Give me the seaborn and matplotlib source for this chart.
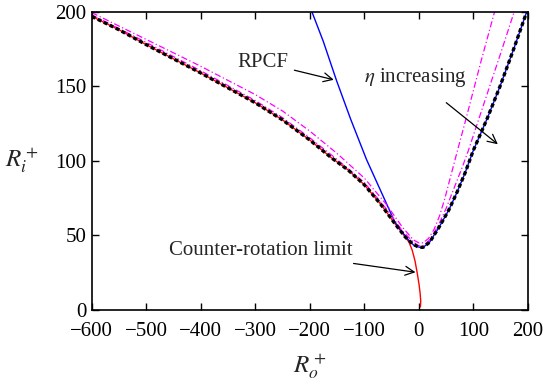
import matplotlib
matplotlib.use("Agg")
import matplotlib.pyplot as plt
import pandas as pd
import seaborn as sns

# ---------------------------------------------------------------------------
# Data (R_o^+, R_i^+)
# ---------------------------------------------------------------------------
black_x = [-600, -550, -500, -450, -400, -350, -300, -250, -200, -160, -130, -100,
           -70, -45, -25, -12, 0, 8, 20, 38, 55, 69, 85, 100, 125, 149, 175, 198]
black_y = [197, 188, 178, 168.5, 159, 149, 139, 127.5, 114, 102, 94, 84,
           71, 58.5, 49, 44.5, 42, 42, 45.5, 56, 67, 78, 92, 107, 128, 150, 176, 200]

red_x = [-600, -550, -500, -450, -400, -350, -300, -250, -200, -160, -130, -100,
         -70, -45, -25, -18, -12, -7, -3, 0.5, 2.5, 3.5, 3]
red_y = [197, 188, 178, 168.5, 159, 149, 139, 127.5, 114, 102, 94, 84,
         71, 58.5, 49, 45.5, 40, 33, 25, 17, 11, 6, 2]

blue_x = [-196, -175, -151, -125, -96, -70, -44, -30, -18, -8, 2, 8, 20, 38, 55,
          69, 85, 100, 125, 149, 175, 198]
blue_y = [200, 180, 154, 128, 101, 80, 59, 52, 46.5, 43, 42, 42, 45.5, 56, 67,
          78, 92, 107, 128, 150, 176, 200]

mag1_x = [-600, -500, -400, -300, -250, -200, -150, -100, -60, -30, -10, 0, 8,
          18, 28, 38, 48, 58, 71, 85, 100, 115, 130, 139]
mag1_y = [199.5, 181.5, 163.5, 144.5, 133.5, 120, 105, 88.5, 71, 55.5, 47, 45, 45,
          48, 54, 63, 75, 89, 107, 126, 147, 168, 188, 200]

mag2_x = [-600, -500, -400, -300, -250, -200, -150, -100, -60, -30, -10, 0, 8,
          20, 35, 50, 65, 80, 91, 110, 130, 150, 175]
mag2_y = [198, 179.5, 160.5, 140.5, 129, 115.5, 101, 85.5, 68, 53, 45.5, 43, 43,
          47, 56, 68, 82, 96, 107, 128, 150, 172, 200]

x_ticks = [-600, -500, -400, -300, -200, -100, 0, 100, 200]
y_ticks = [0, 50, 100, 150, 200]


def curve(x, y):
    return pd.DataFrame({"x": x, "y": y})


sns.set_theme(style="ticks")
plt.rcParams["font.family"] = ["Liberation Serif", "DejaVu Serif"]
plt.rcParams["mathtext.fontset"] = "stix"

fig, ax = plt.subplots(figsize=(5.43, 3.84), dpi=100)
fig.subplots_adjust(left=0.169, right=0.972, top=0.969, bottom=0.193)

sns.lineplot(data=curve(red_x, red_y), x="x", y="y", sort=False, ax=ax,
             color="#ff0000", linewidth=1.0)
sns.lineplot(data=curve(blue_x, blue_y), x="x", y="y", sort=False, ax=ax,
             color="#0000ff", linewidth=1.0)
sns.lineplot(data=curve(mag1_x, mag1_y), x="x", y="y", sort=False, ax=ax,
             color="#ff00ff", linewidth=0.9, linestyle=(0, (5, 2, 1, 2)))
sns.lineplot(data=curve(mag2_x, mag2_y), x="x", y="y", sort=False, ax=ax,
             color="#ff00ff", linewidth=0.9, linestyle=(0, (5, 2, 1, 2)))
sns.lineplot(data=curve(black_x, black_y), x="x", y="y", sort=False, ax=ax,
             color="black", linewidth=2.4, linestyle=(0, (1.2, 0.8)))

ax.set_xlim(-600, 200)
ax.set_ylim(0, 200)
ax.set_xticks(x_ticks)
ax.set_yticks(y_ticks)
ax.tick_params(direction="in", length=5, width=1, top=True, right=True,
               labelsize=15, colors="black", pad=4)
ax.tick_params(axis="x", pad=9)
for sp in ax.spines.values():
    sp.set_visible(True)
    sp.set_linewidth(1.2)
    sp.set_color("black")

ax.set_xlabel(r"$R_o^+$", fontsize=18, va="center")
ax.set_ylabel(r"$R_i^+$", fontsize=18, rotation=0, ha="center", va="center")
ax.xaxis.set_label_coords(0.5, -0.19)
ax.yaxis.set_label_coords(-0.16, 0.503)

arrow = dict(arrowstyle="->", color="black", linewidth=0.9, mutation_scale=16)
ax.annotate("RPCF", xy=(-151, 154), xytext=(-286, 166), fontsize=15,
            ha="center", va="center", arrowprops=arrow)
ax.annotate(r"$\eta$ increasing", xy=(149, 110), xytext=(-7, 156), fontsize=15,
            ha="center", va="center",
            arrowprops=dict(arrow, shrinkA=12))
ax.annotate("Counter-rotation limit", xy=(-1, 25), xytext=(-290, 40), fontsize=15,
            ha="center", va="center", arrowprops=arrow)

fig.savefig("out.png", dpi=100)
plt.close(fig)
